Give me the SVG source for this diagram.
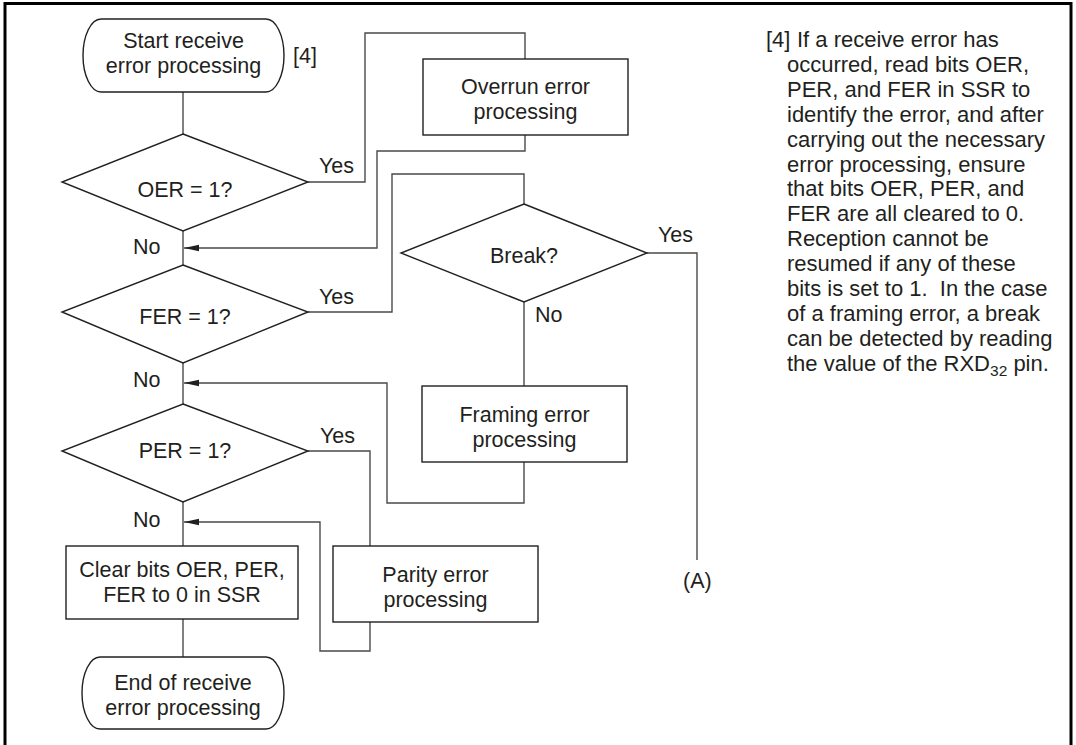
<svg xmlns="http://www.w3.org/2000/svg" width="1076" height="745" viewBox="0 0 1076 745">
<style>
text{font-family:"Liberation Sans",Arial,sans-serif;font-size:21.5px;fill:#231f20}
.c{text-anchor:middle}
.shape{fill:#fff;stroke:#231f20;stroke-width:1.4}
.conn{fill:none;stroke:#4a4a4a;stroke-width:1.4}
.note{white-space:pre;font-size:22px}
</style>
<defs>
<marker id="arr" markerUnits="userSpaceOnUse" markerWidth="16" markerHeight="8" refX="15" refY="4" orient="auto">
<path d="M0,0.8 L15,4 L0,7.2 Z" fill="#231f20"/>
</marker>
</defs>
<rect x="0" y="0" width="1076" height="745" fill="#fff"/>
<rect x="5" y="3.5" width="1066" height="800" fill="none" stroke="#000" stroke-width="3"/>

<g id="connectors">
<path class="conn" d="M183 92 V134"/>
<path class="conn" d="M308 182 H365 V33 H525 V59"/>
<path class="conn" d="M525 135 V151 H377 V248 H184" marker-end="url(#arr)"/>
<path class="conn" d="M183 231 V265"/>
<path class="conn" d="M308 312 H392 V174 H524 V204"/>
<path class="conn" d="M647 253 H697 V560"/>
<path class="conn" d="M524 302 V386"/>
<path class="conn" d="M524 462 V503 H387 V383 H184" marker-end="url(#arr)"/>
<path class="conn" d="M183 363 V404"/>
<path class="conn" d="M308 451 H370 V546"/>
<path class="conn" d="M370 622 V651 H320 V522 H184" marker-end="url(#arr)"/>
<path class="conn" d="M183 502 V546"/>
<path class="conn" d="M183 619 V657"/>
</g>

<g id="start">
<rect class="shape" x="83" y="19" width="201" height="73" rx="18" ry="36.5"/>
<text class="c" x="183.5" y="48">Start receive</text>
<text class="c" x="183.5" y="73">error processing</text>
<text x="293" y="63">[4]</text>
</g>

<g id="oer">
<path class="shape" d="M183 134 L308 182 L183 231 L62 182 Z"/>
<text class="c" x="185" y="197">OER = 1?</text>
<text x="319" y="173">Yes</text>
<text x="133" y="254">No</text>
</g>

<g id="overrun">
<rect class="shape" x="423" y="59" width="205" height="76"/>
<text class="c" x="525.5" y="94">Overrun error</text>
<text class="c" x="525.5" y="119">processing</text>
</g>

<g id="fer">
<path class="shape" d="M183 265 L308 312 L183 363 L62 312 Z"/>
<text class="c" x="185" y="324">FER = 1?</text>
<text x="319" y="304">Yes</text>
<text x="133" y="387">No</text>
</g>

<g id="break">
<path class="shape" d="M524 204 L647 253 L524 302 L401 253 Z"/>
<text class="c" x="524" y="263">Break?</text>
<text x="658" y="242">Yes</text>
<text x="535" y="322">No</text>
</g>

<g id="framing">
<rect class="shape" x="422" y="386" width="205" height="76"/>
<text class="c" x="524.5" y="422">Framing error</text>
<text class="c" x="524.5" y="447">processing</text>
</g>

<g id="a-label">
<text x="683" y="588">(A)</text>
</g>

<g id="per">
<path class="shape" d="M183 404 L308 451 L183 502 L62 451 Z"/>
<text class="c" x="185" y="458">PER = 1?</text>
<text x="320" y="443">Yes</text>
<text x="133" y="527">No</text>
</g>

<g id="parity">
<rect class="shape" x="333" y="546" width="205" height="76"/>
<text class="c" x="435.5" y="582">Parity error</text>
<text class="c" x="435.5" y="607">processing</text>
</g>

<g id="clear">
<rect class="shape" x="66" y="546" width="232" height="73"/>
<text class="c" x="182" y="577">Clear bits OER, PER,</text>
<text class="c" x="182" y="602">FER to 0 in SSR</text>
</g>

<g id="end">
<rect class="shape" x="82" y="657" width="202" height="72" rx="18" ry="36"/>
<text class="c" x="183" y="690">End of receive</text>
<text class="c" x="183" y="715">error processing</text>
</g>

<g id="note">
<text class="note" x="766" y="47">[4]</text>
<text class="note" x="797" y="47">If a receive error has</text>
<text class="note" x="787" y="71.9">occurred, read bits OER,</text>
<text class="note" x="787" y="96.8">PER, and FER in SSR to</text>
<text class="note" x="787" y="121.7">identify the error, and after</text>
<text class="note" x="787" y="146.6">carrying out the necessary</text>
<text class="note" x="787" y="171.5">error processing, ensure</text>
<text class="note" x="787" y="196.4">that bits OER, PER, and</text>
<text class="note" x="787" y="221.3">FER are all cleared to 0.</text>
<text class="note" x="787" y="246.2">Reception cannot be</text>
<text class="note" x="787" y="271.1">resumed if any of these</text>
<text class="note" x="787" y="296">bits is set to 1.  In the case</text>
<text class="note" x="787" y="320.9">of a framing error, a break</text>
<text class="note" x="787" y="345.8">can be detected by reading</text>
<text class="note" x="787" y="370.7">the value of the RXD<tspan font-size="15.5" dy="5">32</tspan><tspan dy="-5"> pin.</tspan></text>
</g>
</svg>
